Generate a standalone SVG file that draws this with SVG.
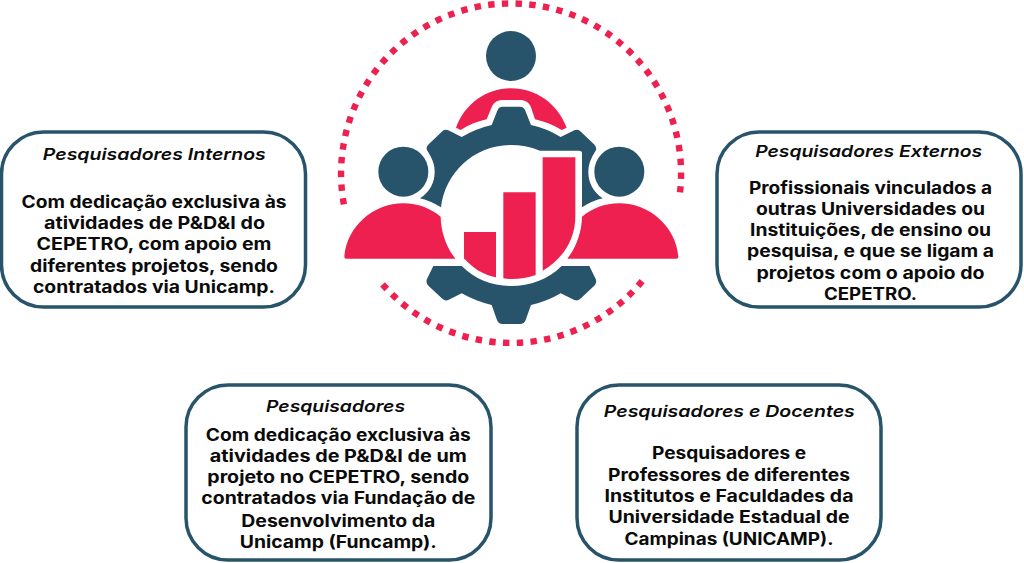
<svg xmlns="http://www.w3.org/2000/svg" width="1024" height="563" viewBox="0 0 1024 563">
<style>
.box{fill:#fff;stroke:#27546b;stroke-width:3.5}
.h{font:italic 600 16.5px Inter,"Open Sans",sans-serif;fill:#0b0b0b;text-anchor:middle}
.b{font:700 17px Inter,"Open Sans",sans-serif;fill:#0b0b0b;text-anchor:middle}
.r{fill:#ee2050}.d{fill:#27546b}
.dots{fill:none;stroke:#ee2050;stroke-width:6.4;stroke-dasharray:6.4 7.35}
</style>
<rect width="1024" height="563" fill="#fff"/>
<g id="connectors"/>
<g id="icon">
<path class="dots" d="M343.9 204.4A170 170 0 1 1 680 192.5"/>
<path class="dots" d="M382.6 284.3A170 170 0 0 0 642.5 280.7"/>
<g transform="translate(330 0) scale(.33333)">
<circle class="d" cx="543" cy="168" r="75"/><circle class="d" cx="220" cy="515" r="75"/><circle class="d" cx="868" cy="515" r="75"/>
<path class="r" d="M378 383C405 310 470 265 543 265C617 265 683 310 710 383L695 390C670 375 645 365 615 358L603 322C597 306 585 300 570 300H518C503 300 491 306 485 322L470 358C440 365 415 375 392 390Z"/>
<path class="r" d="M43 770C50 680 130 610 220 610C265 610 300 625 332 650C333 695 348 740 376 776H48Q43 776 43 770Z"/>
<path class="r" d="M1045 770C1038 680 958 610 868 610C823 610 788 625 756 650C755 695 740 740 712 776H1040Q1045 776 1045 770Z"/>
<path class="d" fill-rule="evenodd" d="M518 320H570Q582 320 586 332L603 375Q650 385 692 411L733 391Q743 387 751 394L792 433Q803 443 796 454Q775 485 775 515Q775 565 818 595Q785 603 756 622V460Q756 452 748 452H630C600 440 570 435 543 435C430 435 345 520 333 622Q302 603 270 595Q314 565 314 515Q314 485 293 454Q285 443 296 433L337 394Q345 387 355 391L395 411Q440 385 485 375L502 332Q506 320 518 320Z"/>
<path class="d" d="M310 798H395C435 838 485 858 543 858C600 858 655 838 695 798H778L796 835Q803 847 792 858L751 896Q743 904 733 900L692 880Q650 905 603 915L587 960Q583 972 570 972H518Q505 972 501 960L485 915Q440 905 395 880L355 900Q345 904 337 896L296 858Q285 847 292 835Z"/>
<path class="r" d="M402 696H498V832C460 825 428 805 402 775Z"/>
<path class="r" d="M520 577H617V825C585 836 550 840 520 835Z"/>
<path class="r" d="M638 472H736V650C736 720 695 780 638 812Z"/>
</g>
</g>
<g id="internos">
<rect class="box" x="1.5" y="132" width="304" height="175" rx="42"/>
<text class="h" x="154.3" y="160" textLength="223" lengthAdjust="spacingAndGlyphs">Pesquisadores Internos</text>
<text class="b" x="154" y="207.5" textLength="265" lengthAdjust="spacingAndGlyphs">Com dedicação exclusiva às</text>
<text class="b" x="154.5" y="229" textLength="221" lengthAdjust="spacingAndGlyphs">atividades de P&amp;D&amp;I do</text>
<text class="b" x="154" y="250.3" textLength="235" lengthAdjust="spacingAndGlyphs">CEPETRO, com apoio em</text>
<text class="b" x="154" y="271.7" textLength="248" lengthAdjust="spacingAndGlyphs">diferentes projetos, sendo</text>
<text class="b" x="154" y="293" textLength="242" lengthAdjust="spacingAndGlyphs">contratados via Unicamp.</text>
</g>
<g id="externos">
<rect class="box" x="717" y="132" width="304" height="175" rx="42"/>
<text class="h" x="868.7" y="156.7" textLength="227" lengthAdjust="spacingAndGlyphs">Pesquisadores Externos</text>
<text class="b" x="870.5" y="194" textLength="243" lengthAdjust="spacingAndGlyphs">Profissionais vinculados a</text>
<text class="b" x="870.5" y="215" textLength="229" lengthAdjust="spacingAndGlyphs">outras Universidades ou</text>
<text class="b" x="870.5" y="236" textLength="241" lengthAdjust="spacingAndGlyphs">Instituições, de ensino ou</text>
<text class="b" x="870.5" y="257.3" textLength="247" lengthAdjust="spacingAndGlyphs">pesquisa, e que se ligam a</text>
<text class="b" x="870.5" y="279" textLength="228" lengthAdjust="spacingAndGlyphs">projetos com o apoio do</text>
<text class="b" x="870.5" y="300" textLength="93" lengthAdjust="spacingAndGlyphs">CEPETRO.</text>
</g>
<g id="pesquisadores">
<rect class="box" x="186" y="385" width="305" height="175" rx="42"/>
<text class="h" x="335.5" y="412.3" textLength="139" lengthAdjust="spacingAndGlyphs">Pesquisadores</text>
<text class="b" x="338.3" y="440.7" textLength="265" lengthAdjust="spacingAndGlyphs">Com dedicação exclusiva às</text>
<text class="b" x="338.3" y="461.7" textLength="257" lengthAdjust="spacingAndGlyphs">atividades de P&amp;D&amp;I de um</text>
<text class="b" x="338.3" y="483.3" textLength="262" lengthAdjust="spacingAndGlyphs">projeto no CEPETRO, sendo</text>
<text class="b" x="338.3" y="504.3" textLength="274" lengthAdjust="spacingAndGlyphs">contratados via Fundação de</text>
<text class="b" x="338.3" y="526.7" textLength="194" lengthAdjust="spacingAndGlyphs">Desenvolvimento da</text>
<text class="b" x="338.3" y="547.7" textLength="197" lengthAdjust="spacingAndGlyphs">Unicamp (Funcamp).</text>
</g>
<g id="docentes">
<rect class="box" x="577" y="385" width="304" height="175" rx="42"/>
<text class="h" x="729.3" y="416.7" textLength="251" lengthAdjust="spacingAndGlyphs">Pesquisadores e Docentes</text>
<text class="b" x="729" y="459.3" textLength="154" lengthAdjust="spacingAndGlyphs">Pesquisadores e</text>
<text class="b" x="729" y="480.7" textLength="242" lengthAdjust="spacingAndGlyphs">Professores de diferentes</text>
<text class="b" x="729" y="502" textLength="249" lengthAdjust="spacingAndGlyphs">Institutos e Faculdades da</text>
<text class="b" x="729" y="523.3" textLength="241" lengthAdjust="spacingAndGlyphs">Universidade Estadual de</text>
<text class="b" x="729" y="545" textLength="209" lengthAdjust="spacingAndGlyphs">Campinas (UNICAMP).</text>
</g>
</svg>
